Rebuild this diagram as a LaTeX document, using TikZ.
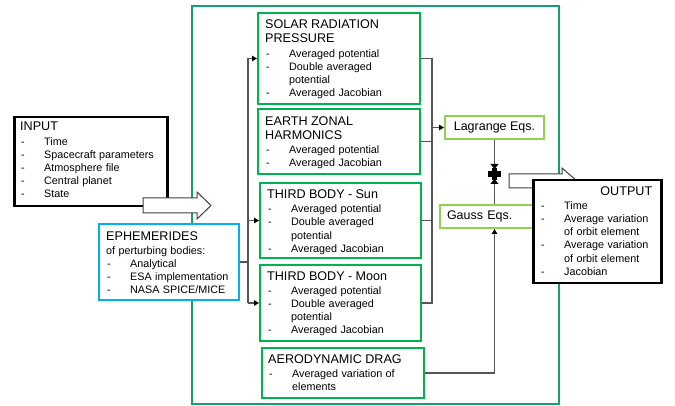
\documentclass[tikz,border=0pt]{standalone}
\usepackage{fontspec}
\setmainfont{Liberation Sans}
\usetikzlibrary{arrows.meta}
\setlength{\parindent}{0pt}
\definecolor{frameC}{RGB}{22,160,112}
\definecolor{gboxC}{RGB}{0,178,80}
\definecolor{lgreenC}{RGB}{146,208,80}
\definecolor{cyanC}{RGB}{0,176,240}
\definecolor{connC}{RGB}{85,85,85}
\definecolor{blockC}{RGB}{64,64,64}
\newcommand{\tstrut}{\vrule height 10pt depth 0pt width 0pt}
\newcommand{\hdr}[1]{{\fontsize{12.6pt}{14.4pt}\selectfont\tstrut #1\par}\vspace{1pt}}
\newcommand{\bl}[1]{{\fontsize{10.8pt}{13.2pt}\selectfont\hangindent=24pt\hangafter=1\makebox[24pt][l]{\hspace*{1pt}-}#1\par}}
\newcommand{\pl}[1]{{\fontsize{10.8pt}{13.2pt}\selectfont #1\par}}
\tikzset{
  gbox/.style={draw=gboxC, line width=2pt, fill=white, inner sep=0pt, anchor=north west},
  kbox/.style={draw=black, line width=2.5pt, fill=white, inner sep=0pt, anchor=north west},
  cbox/.style={draw=cyanC, line width=2pt, fill=white, inner sep=0pt, anchor=north west},
  lbox/.style={draw=lgreenC, line width=2pt, fill=white, inner sep=0pt, anchor=north west, font=\fontsize{12.5pt}{14pt}\selectfont},
  txt/.style={anchor=north west, inner sep=0pt, text width=#1},
  conn/.style={draw=connC, line width=1.1pt},
  arr/.style={conn, -{Triangle[length=5pt,width=5.5pt,color=black]}},
  tiparr/.style={conn, -{Triangle[length=5pt,width=8pt,color=black]}},
  blockarrow/.style={draw=blockC, line width=1pt, fill=white}
}
\begin{document}
\begin{tikzpicture}[x=1pt,y=-1pt]
\useasboundingbox (0,0) rectangle (675,406);
% outer frame
\node[draw=frameC, line width=2pt, inner sep=0pt, minimum width=367, minimum height=398, anchor=north west] (frame) at (191,5) {};
% input
\node[kbox, minimum width=153, minimum height=89] (input) at (13,116) {};
\draw[blockarrow] (143,198) -- (197,198) -- (197,192) -- (211,205.5) -- (197,219) -- (197,213) -- (143,213) -- cycle;
% ephemerides
\node[cbox, minimum width=140, minimum height=76] (eph) at (98,223) {};
% perturbation boxes
\node[gbox, minimum width=162, minimum height=91] (srp) at (257,12) {};
\node[gbox, minimum width=162, minimum height=65] (ezh) at (257,108) {};
\node[gbox, minimum width=161, minimum height=75] (sun) at (259,182) {};
\node[gbox, minimum width=161, minimum height=76] (moon) at (259,264) {};
\node[gbox, minimum width=162, minimum height=50] (drag) at (261,347) {};
% equations
\node[lbox, minimum width=99, minimum height=23] (lag) at (444,115) {Lagrange Eqs.};
\node[lbox, minimum width=95, minimum height=23, text width=81, inner xsep=7pt, align=left] (gauss) at (439,204) {Gauss Eqs.};
% connectors
\coordinate (lbx) at (248,0);
\coordinate (rbx) at (432,0);
\draw[conn] (eph.east) -- (eph.east -| lbx);
\draw[conn] (srp.west -| lbx) -- (moon.west -| lbx);
\draw[arr] (srp.west -| lbx) -- (srp.west);
\draw[arr] (sun.west -| lbx) -- (sun.west);
\draw[arr] (moon.west -| lbx) -- (moon.west);
\draw[conn] (srp.east) -- (srp.east -| rbx) -- (moon.east -| rbx) -- (moon.east);
\draw[conn] (ezh.east) -- (ezh.east -| rbx);
\draw[conn] (sun.east) -- (sun.east -| rbx);
\draw[arr] (lag.west -| rbx) -- (lag.west);
\draw[arr] (drag.east) -- (drag.east -| lag.south) -- (lag.south |- gauss.south);
\coordinate (bt) at (lag.south |- 0,174);
\draw[tiparr] (lag.south) -- ([shift={(0,-5)}]bt);
\draw[tiparr] (gauss.north -| bt) -- ([shift={(0,5)}]bt);
\fill[black] ([shift={(-6.5,-3)}]bt) rectangle ([shift={(6.5,3)}]bt);
\fill[black] ([shift={(-2.5,-6)}]bt) rectangle ([shift={(2.5,6)}]bt);
% output
\draw[blockarrow] (509,174) -- (562,174) -- (562,168) -- (577,181) -- (562,194) -- (562,188) -- (509,188) -- cycle;
\node[kbox, minimum width=128, minimum height=103] (output) at (532,179) {};
% texts
\node[txt=150] (inputtxt) at ([shift={(7,4.7)}]input.north west) {\hdr{INPUT}\bl{Time}\bl{Spacecraft parameters}\bl{Atmosphere file}\bl{Central planet}\bl{State}};
\node[txt=135] (ephtxt) at ([shift={(8,7)}]eph.north west) {\hdr{EPHEMERIDES}\pl{of perturbing bodies:}\bl{Analytical}\bl{ESA implementation}\bl{NASA SPICE/MICE}};
\node[txt=155] (srptxt) at ([shift={(8,6.3)}]srp.north west) {\hdr{SOLAR RADIATION\newline PRESSURE}\bl{Averaged potential}\bl{Double averaged\newline potential}\bl{Averaged Jacobian}};
\node[txt=155] (ezhtxt) at ([shift={(8,7)}]ezh.north west) {\hdr{EARTH ZONAL\newline HARMONICS}\bl{Averaged potential}\bl{Averaged Jacobian}};
\node[txt=155] (suntxt) at ([shift={(8,6.3)}]sun.north west) {\hdr{THIRD BODY - Sun}\bl{Averaged potential}\bl{Double averaged\newline potential}\bl{Averaged Jacobian}};
\node[txt=155] (moontxt) at ([shift={(8,6)}]moon.north west) {\hdr{THIRD BODY - Moon}\bl{Averaged potential}\bl{Double averaged\newline potential}\bl{Averaged Jacobian}};
\node[txt=155] (dragtxt) at ([shift={(7,6.3)}]drag.north west) {\hdr{AERODYNAMIC DRAG}\bl{Averaged variation of\newline elements}};
\node[txt=112] (outtxt) at ([shift={(8,6)}]output.north west) {\hdr{\hfill OUTPUT}\bl{Time}\bl{Average variation\newline of orbit element}\bl{Average variation\newline of orbit element}\bl{Jacobian}};
\end{tikzpicture}
\end{document}
